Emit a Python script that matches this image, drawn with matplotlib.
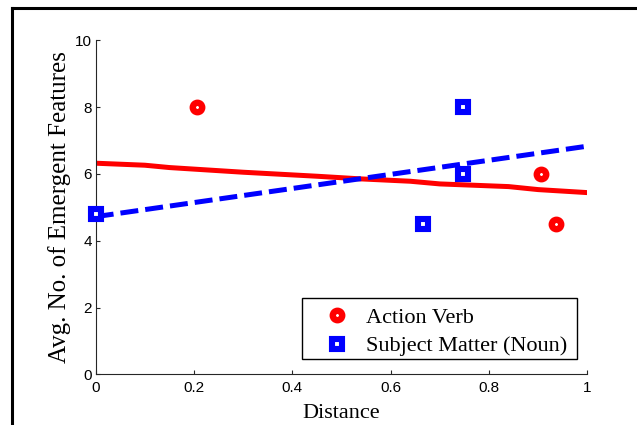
import matplotlib
matplotlib.use("Agg")
import matplotlib.pyplot as plt
from matplotlib.lines import Line2D
from matplotlib.patches import Rectangle

# Observed averages
verb_x = [0.207, 0.906, 0.936]
verb_y = [8.0, 6.0, 4.5]
noun_x = [0.0, 0.666, 0.748, 0.748]
noun_y = [4.8, 4.5, 8.0, 6.0]

# Trend curves
verb_trend_x = [0.0, 0.1, 0.15, 0.3, 0.45, 0.54, 0.64, 0.70, 0.84, 0.90, 1.0]
verb_trend_y = [6.32, 6.26, 6.19, 6.05, 5.93, 5.85, 5.78, 5.70, 5.62, 5.53, 5.44]
noun_trend_x = [0.0, 1.0]
noun_trend_y = [4.72, 6.83]

xticks = [0, 0.2, 0.4, 0.6, 0.8, 1]
xticklabels = ["0", "0.2", "0.4", "0.6", "0.8", "1"]
yticks = [0, 2, 4, 6, 8, 10]
yticklabels = ["0", "2", "4", "6", "8", "10"]

serif = "Liberation Serif"
sans = "Liberation Sans"

fig = plt.figure(figsize=(6.37, 4.25), dpi=100)
W, H = 637, 425

# outer frame (top and left edges)
fig.add_artist(Line2D([11.8 / W, 11.8 / W], [0, 1 - 7.5 / H], transform=fig.transFigure,
                      color="black", lw=2.2, solid_capstyle="projecting"))
fig.add_artist(Line2D([11.8 / W, 1], [1 - 7.5 / H, 1 - 7.5 / H], transform=fig.transFigure,
                      color="black", lw=2.2, solid_capstyle="projecting"))

left, right = 95.7 / W, 587.3 / W
bottom, top = 1 - 374.3 / H, 1 - 40.3 / H
ax = fig.add_axes([left, bottom, right - left, top - bottom])

ax.plot(verb_trend_x, verb_trend_y, color="#ff0000", lw=3.6, solid_capstyle="butt", zorder=2)
ax.plot(noun_trend_x, noun_trend_y, color="#0000ff", lw=3.6, linestyle=(0, (3.6, 1.4)),
        dash_capstyle="butt", zorder=2)

ax.plot(verb_x, verb_y, linestyle="none", marker="o", ms=6.8, mew=4.6,
        mec="#ff0000", mfc="white", label="Action Verb", zorder=3, clip_on=False)
ax.plot(noun_x, noun_y, linestyle="none", marker="s", ms=6.6, mew=4.4,
        mec="#0000ff", mfc="white", label="Subject Matter (Noun)", zorder=3, clip_on=False)

ax.set_xlim(0, 1)
ax.set_ylim(0, 10)
ax.set_xticks(xticks)
ax.set_xticklabels(xticklabels)
ax.set_yticks(yticks)
ax.set_yticklabels(yticklabels)

for s in ["top", "right"]:
    ax.spines[s].set_visible(False)
for s in ["left", "bottom"]:
    ax.spines[s].set_color("#262626")
    ax.spines[s].set_linewidth(0.8)

ax.tick_params(axis="both", direction="in", length=3, width=0.8, color="#262626",
               labelsize=11, labelcolor="black")
ax.tick_params(axis="x", pad=5)
ax.tick_params(axis="y", pad=2.5)
for lab in ax.get_xticklabels() + ax.get_yticklabels():
    lab.set_fontfamily(sans)

ax.set_xlabel("Distance", fontfamily=serif, fontsize=16, labelpad=6)
ax.set_ylabel("Avg. No. of Emergent Features", fontfamily=serif, fontsize=18, labelpad=3)

# legend box
x0 = (302.3 - 95.7) / 491.6
x1 = (576.7 - 95.7) / 491.6
yb = (374.3 - 359.0) / 334.0
yt = (374.3 - 297.7) / 334.0
ax.add_patch(Rectangle((x0, yb), x1 - x0, yt - yb, transform=ax.transAxes,
                       facecolor="white", edgecolor="black", lw=1.0, zorder=4,
                       clip_on=False))
y_entries = (374.3 - 363.0) / 334.0
leg = ax.legend(loc="lower left", bbox_to_anchor=(x0, y_entries, x1 - x0, 0.2), mode="expand",
                borderaxespad=0, prop={"family": serif, "size": 16},
                handlelength=2.5, handletextpad=0.065, borderpad=0.3, labelspacing=0.345,
                frameon=False, numpoints=1)
leg.set_zorder(5)

fig.savefig("out.png", dpi=100)
